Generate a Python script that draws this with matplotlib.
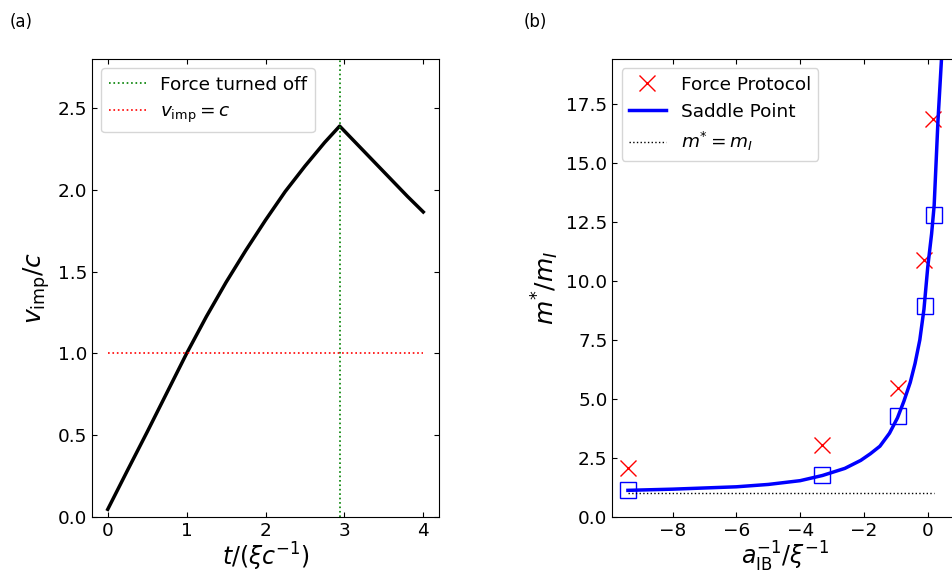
import numpy as np
import matplotlib
matplotlib.use("Agg")
import matplotlib.pyplot as plt

## impurity velocity under a constant force, force switched off at t_off
t_on = [0.0, 0.25, 0.5, 0.75, 1.0, 1.25, 1.5, 1.75, 2.0, 2.25, 2.5, 2.75, 2.94]
v_on = [0.047, 0.285, 0.52, 0.76, 1.0, 1.225, 1.435, 1.63, 1.815, 1.99, 2.145, 2.29, 2.39]
t_off_curve = [2.94, 3.1, 3.25, 3.4, 3.59, 3.8, 4.0]
v_off_curve = [2.39, 2.31, 2.235, 2.16, 2.065, 1.96, 1.865]
t_off = 2.94

## effective mass vs inverse scattering length
a_force = [-9.39, -3.33, -0.93, -0.11, 0.17]
m_force = [2.08, 3.05, 5.47, 10.9, 16.85]
a_sq = [-9.39, -3.33, -0.93, -0.09, 0.19]
m_sq = [1.13, 1.77, 4.27, 8.95, 12.8]
a_saddle = [-9.4, -8.0, -6.0, -5.0, -4.0, -3.3, -2.6, -2.1, -1.8, -1.5, -1.2,
            -0.95, -0.75, -0.55, -0.4, -0.25, -0.12, 0.0, 0.12, 0.2, 0.32,
            0.43, 0.47]
m_saddle = [1.13, 1.18, 1.28, 1.38, 1.54, 1.76, 2.06, 2.4, 2.68, 3.0, 3.55,
            4.2, 4.9, 5.7, 6.5, 7.5, 8.8, 10.6, 12.0, 13.2, 16.8,
            19.4, 21.0]

plt.rcParams['font.size'] = 13.3
plt.rcParams['xtick.direction'] = 'in'
plt.rcParams['ytick.direction'] = 'in'
plt.rcParams['xtick.top'] = True
plt.rcParams['ytick.right'] = True

fig = plt.figure(figsize=(9.53, 5.73), dpi=100)
ax1 = fig.add_axes([0.0965, 0.0977, 0.3642, 0.7993])
ax2 = fig.add_axes([0.6425, 0.0977, 0.3625, 0.7993])

ax1.plot(t_on + t_off_curve[1:], v_on + v_off_curve[1:], color='k', lw=2.5)
ax1.axvline(t_off, color='g', ls=':', lw=1.2, label='Force turned off')
ax1.plot([0, 4], [1, 1], color='r', ls=':', lw=1.2, label=r'$v_{\rm imp}=c$')
ax1.set_xlim(-0.2, 4.2)
ax1.set_ylim(0, 2.8)
ax1.set_xticks([0, 1, 2, 3, 4])
ax1.set_xlabel(r'$t/(\xi c^{-1})$', fontsize=17, labelpad=1)
ax1.set_ylabel(r'$v_{\rm imp}/c$', fontsize=18)
ax1.legend(loc='upper left')

ax2.plot(a_force, m_force, 'x', color='r', ms=11, mew=1, label='Force Protocol')
ax2.plot(a_saddle, m_saddle, color='b', lw=2.5, label='Saddle Point')
ax2.plot(a_sq, m_sq, 's', mfc='none', mec='b', ms=11, mew=1)
ax2.plot([a_sq[0], a_sq[-1]], [1, 1], 'k:', lw=1, label=r'$m^{*}=m_{I}$')
ax2.set_xlim(-9.89, 0.94)
ax2.set_ylim(0, 19.4)
ax2.set_xticks([-8, -6, -4, -2, 0])
ax2.set_xlabel(r'$a_{\rm IB}^{-1}/\xi^{-1}$', fontsize=17, labelpad=0)
ax2.set_ylabel(r'$m^{*}/m_{I}$', fontsize=18)
ax2.legend(loc='upper left', numpoints=1)

fig.text(0.0105, 0.978, '(a)', fontsize=12, va='top')
fig.text(0.549, 0.978, '(b)', fontsize=12, va='top')

fig.savefig("out.png", dpi=100)
